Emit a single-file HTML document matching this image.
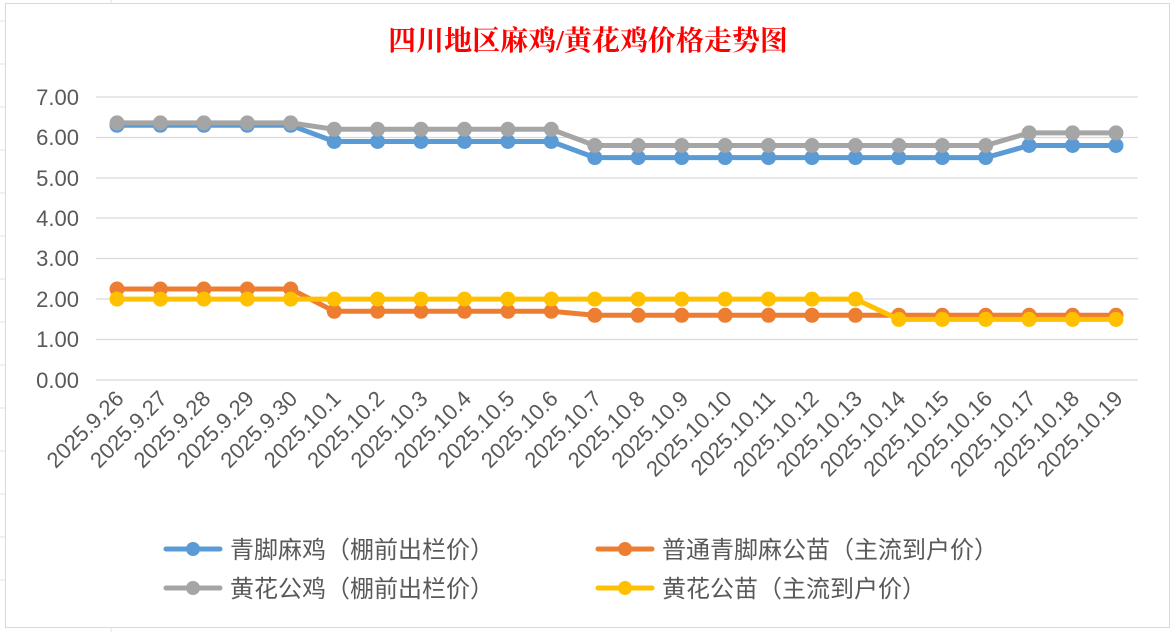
<!DOCTYPE html>
<html><head><meta charset="utf-8"><style>
html,body{margin:0;padding:0;background:#fff;}
svg{display:block;font-family:"Liberation Sans","Noto Sans CJK SC",sans-serif;}
</style></head><body>
<svg width="1176" height="632" xmlns="http://www.w3.org/2000/svg">
<defs>
<marker id="mb" markerUnits="userSpaceOnUse" markerWidth="16" markerHeight="16" refX="8" refY="8"><circle cx="8" cy="8" r="7.5" fill="#5b9bd5"/></marker>
<marker id="mg" markerUnits="userSpaceOnUse" markerWidth="16" markerHeight="16" refX="8" refY="8"><circle cx="8" cy="8" r="7.5" fill="#a5a5a5"/></marker>
<marker id="mo" markerUnits="userSpaceOnUse" markerWidth="16" markerHeight="16" refX="8" refY="8"><circle cx="8" cy="8" r="7.5" fill="#ed7d31"/></marker>
<marker id="my" markerUnits="userSpaceOnUse" markerWidth="16" markerHeight="16" refX="8" refY="8"><circle cx="8" cy="8" r="7.5" fill="#ffc000"/></marker>
</defs>
<rect width="1176" height="632" fill="#fff"/>
<g stroke="#e3e3e3" stroke-width="1">
<line x1="111" y1="0" x2="111" y2="4"/><line x1="111" y1="628" x2="111" y2="632"/>
<line x1="0" y1="21" x2="5" y2="21"/><line x1="0" y1="64" x2="5" y2="64"/><line x1="0" y1="107" x2="5" y2="107"/><line x1="0" y1="150" x2="5" y2="150"/><line x1="0" y1="193" x2="5" y2="193"/><line x1="0" y1="236" x2="5" y2="236"/><line x1="0" y1="279" x2="5" y2="279"/><line x1="0" y1="322" x2="5" y2="322"/><line x1="0" y1="365" x2="5" y2="365"/><line x1="0" y1="408" x2="5" y2="408"/><line x1="0" y1="451" x2="5" y2="451"/><line x1="0" y1="494" x2="5" y2="494"/><line x1="0" y1="537" x2="5" y2="537"/><line x1="0" y1="580" x2="5" y2="580"/>
</g>
<rect x="5.5" y="3.5" width="1164" height="624" fill="#fff" stroke="#d9d9d9"/>
<text x="588" y="50" text-anchor="middle" font-size="28" font-weight="bold" fill="#ff0000" font-family="'Liberation Serif','Noto Serif CJK SC',serif">四川地区麻鸡/黄花鸡价格走势图</text>
<g stroke="#d9d9d9" stroke-width="1.3">
<line x1="96" y1="97" x2="1138" y2="97"/><line x1="96" y1="137.5" x2="1138" y2="137.5"/><line x1="96" y1="178" x2="1138" y2="178"/><line x1="96" y1="218" x2="1138" y2="218"/><line x1="96" y1="258.5" x2="1138" y2="258.5"/><line x1="96" y1="299" x2="1138" y2="299"/><line x1="96" y1="339.5" x2="1138" y2="339.5"/><line x1="96" y1="380" x2="1138" y2="380"/>
</g>
<g font-size="22" fill="#595959" text-anchor="end">
<text x="79" y="105">7.00</text><text x="79" y="145">6.00</text><text x="79" y="186">5.00</text><text x="79" y="226">4.00</text><text x="79" y="266">3.00</text><text x="79" y="307">2.00</text><text x="79" y="347">1.00</text><text x="79" y="388">0.00</text>
</g>
<g font-size="22" fill="#595959" text-anchor="end">
<text transform="translate(125,400) rotate(-45)">2025.9.26</text>
<text transform="translate(168.4,400) rotate(-45)">2025.9.27</text>
<text transform="translate(211.9,400) rotate(-45)">2025.9.28</text>
<text transform="translate(255.3,400) rotate(-45)">2025.9.29</text>
<text transform="translate(298.7,400) rotate(-45)">2025.9.30</text>
<text transform="translate(342.2,400) rotate(-45)">2025.10.1</text>
<text transform="translate(385.6,400) rotate(-45)">2025.10.2</text>
<text transform="translate(429,400) rotate(-45)">2025.10.3</text>
<text transform="translate(472.5,400) rotate(-45)">2025.10.4</text>
<text transform="translate(515.9,400) rotate(-45)">2025.10.5</text>
<text transform="translate(559.3,400) rotate(-45)">2025.10.6</text>
<text transform="translate(602.8,400) rotate(-45)">2025.10.7</text>
<text transform="translate(646.2,400) rotate(-45)">2025.10.8</text>
<text transform="translate(689.7,400) rotate(-45)">2025.10.9</text>
<text transform="translate(733.1,400) rotate(-45)">2025.10.10</text>
<text transform="translate(776.5,400) rotate(-45)">2025.10.11</text>
<text transform="translate(820,400) rotate(-45)">2025.10.12</text>
<text transform="translate(863.4,400) rotate(-45)">2025.10.13</text>
<text transform="translate(906.8,400) rotate(-45)">2025.10.14</text>
<text transform="translate(950.3,400) rotate(-45)">2025.10.15</text>
<text transform="translate(993.7,400) rotate(-45)">2025.10.16</text>
<text transform="translate(1037.1,400) rotate(-45)">2025.10.17</text>
<text transform="translate(1080.6,400) rotate(-45)">2025.10.18</text>
<text transform="translate(1124,400) rotate(-45)">2025.10.19</text>
</g>
<g fill="none" stroke-width="5" stroke-linejoin="round">
<polyline stroke="#ed7d31" marker-start="url(#mo)" marker-mid="url(#mo)" marker-end="url(#mo)" points="117,289 160.4,289 203.9,289 247.3,289 290.7,289 334.2,311.3 377.6,311.3 421,311.3 464.5,311.3 507.9,311.3 551.3,311.3 594.8,315.3 638.2,315.3 681.7,315.3 725.1,315.3 768.5,315.3 812,315.3 855.4,315.3 898.8,315.3 942.3,315.3 985.7,315.3 1029.1,315.3 1072.6,315.3 1116,315.3"/>
<polyline stroke="#ffc000" marker-start="url(#my)" marker-mid="url(#my)" marker-end="url(#my)" points="117,299.1 160.4,299.1 203.9,299.1 247.3,299.1 290.7,299.1 334.2,299.1 377.6,299.1 421,299.1 464.5,299.1 507.9,299.1 551.3,299.1 594.8,299.1 638.2,299.1 681.7,299.1 725.1,299.1 768.5,299.1 812,299.1 855.4,299.1 898.8,319.4 942.3,319.4 985.7,319.4 1029.1,319.4 1072.6,319.4 1116,319.4"/>
<polyline stroke="#5b9bd5" marker-start="url(#mb)" marker-mid="url(#mb)" marker-end="url(#mb)" points="117,125.3 160.4,125.3 203.9,125.3 247.3,125.3 290.7,125.3 334.2,141.5 377.6,141.5 421,141.5 464.5,141.5 507.9,141.5 551.3,141.5 594.8,157.6 638.2,157.6 681.7,157.6 725.1,157.6 768.5,157.6 812,157.6 855.4,157.6 898.8,157.6 942.3,157.6 985.7,157.6 1029.1,145.5 1072.6,145.5 1116,145.5"/>
<polyline stroke="#a5a5a5" marker-start="url(#mg)" marker-mid="url(#mg)" marker-end="url(#mg)" points="117,122.9 160.4,122.9 203.9,122.9 247.3,122.9 290.7,122.9 334.2,129.3 377.6,129.3 421,129.3 464.5,129.3 507.9,129.3 551.3,129.3 594.8,145.5 638.2,145.5 681.7,145.5 725.1,145.5 768.5,145.5 812,145.5 855.4,145.5 898.8,145.5 942.3,145.5 985.7,145.5 1029.1,132.9 1072.6,132.9 1116,132.9"/>
</g>
<g font-size="24" fill="#595959">
<line x1="166" y1="549" x2="220" y2="549" stroke="#5b9bd5" stroke-width="5" stroke-linecap="round"/><circle cx="193" cy="549" r="7" fill="#5b9bd5"/>
<text x="230" y="558">青脚麻鸡（棚前出栏价）</text>
<line x1="166" y1="588" x2="220" y2="588" stroke="#a5a5a5" stroke-width="5" stroke-linecap="round"/><circle cx="193" cy="588" r="7" fill="#a5a5a5"/>
<text x="230" y="597">黄花公鸡（棚前出栏价）</text>
<line x1="598" y1="549" x2="652" y2="549" stroke="#ed7d31" stroke-width="5" stroke-linecap="round"/><circle cx="625" cy="549" r="7" fill="#ed7d31"/>
<text x="662" y="558">普通青脚麻公苗（主流到户价）</text>
<line x1="598" y1="588" x2="652" y2="588" stroke="#ffc000" stroke-width="5" stroke-linecap="round"/><circle cx="625" cy="588" r="7" fill="#ffc000"/>
<text x="662" y="597">黄花公苗（主流到户价）</text>
</g>
</svg>
</body></html>
